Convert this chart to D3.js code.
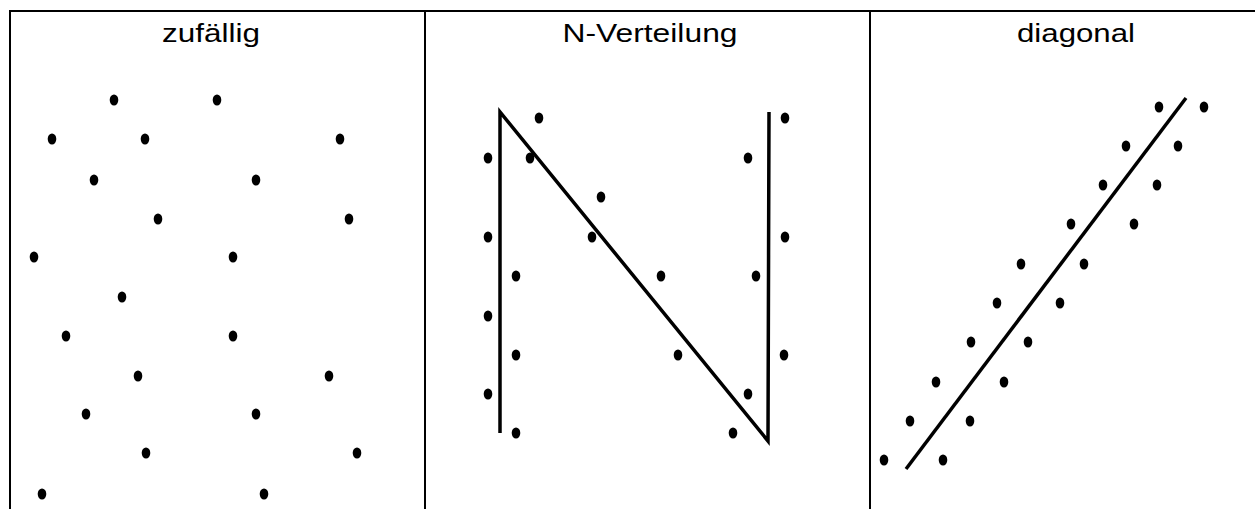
<!DOCTYPE html>
<html>
<head>
<meta charset="utf-8">
<script src="https://cdn.jsdelivr.net/npm/d3@7"></script>
<style>
  body { margin: 0; background: #fff; }
  text { font-family: "Liberation Sans", Arial, sans-serif; }
</style>
</head>
<body>
<div id="chart"></div>
<script>
// panel titles
var titles = ["zufällig", "N-Verteilung", "diagonal"];

// dots, panel-local x (from left border), y from top
var randomDots = [
  [104,100],[207,100],[42,139],[135,139],[330,139],[84,180],[246,180],
  [148,219],[339,219],[24,257],[223,257],[112,297],[56,336],[223,336],
  [128,376],[319,376],[76,414],[246,414],[136,453],[347,453],[32,494],[254,494]
];

var nDots = [
  [114,118],[360,118],[63,158],[105,158],[323,158],[176,197],[63,237],
  [167,237],[360,237],[91,276],[236,276],[331,276],[63,316],[91,355],
  [253,355],[359,355],[63,394],[323,394],[91,433],[308,433]
];
// N shape: left bar up, diagonal down, right bar up
var nLine = [[75,433],[75,112],[343,441],[344,112]];

var diagDots = [
  [289,107],[334,107],[256,146],[308,146],[233,185],[287,185],[201,224],
  [264,224],[151,264],[214,264],[127,303],[190,303],[101,342],[158,342],
  [66,382],[134,382],[40,421],[100,421],[14,460],[73,460]
];
var diagLine = [[36,469],[316,98]];

var panels = [
  {title: titles[0], dots: randomDots, line: null},
  {title: titles[1], dots: nDots, line: nLine},
  {title: titles[2], dots: diagDots, line: diagLine}
];

function drawChart() {
  var width = 1255, height = 509;
  var borderTop = 11;
  var edges = [10, 425, 870, 1255];
  var titleCenter = [201, 225, 206];   // offset of title centre within panel
  var titleLen = [98, 175, 118];

  var svg = d3.select("#chart").append("svg")
      .attr("width", width)
      .attr("height", height);

  svg.append("rect")
      .attr("width", width)
      .attr("height", height)
      .attr("fill", "#fff");

  panels.forEach(function(p, i) {
    var x = d3.scaleLinear()
        .domain([0, edges[i + 1] - edges[i]])
        .range([edges[i], edges[i + 1]]);
    var y = d3.scaleLinear()
        .domain([0, height])
        .range([0, height]);

    var g = svg.append("g");

    g.append("text")
        .attr("x", x(titleCenter[i]))
        .attr("y", 42)
        .attr("text-anchor", "middle")
        .attr("font-size", 26)
        .attr("textLength", titleLen[i])
        .attr("lengthAdjust", "spacingAndGlyphs")
        .attr("fill", "#000")
        .text(p.title);

    if (p.line) {
      var line = d3.line()
          .x(d => x(d[0]))
          .y(d => y(d[1]));
      g.append("path")
          .datum(p.line)
          .attr("d", line)
          .attr("fill", "none")
          .attr("stroke", "#000")
          .attr("stroke-width", 3.5)
          .attr("stroke-linejoin", "miter")
          .attr("stroke-miterlimit", 10);
    }

    g.selectAll("ellipse")
      .data(p.dots)
      .join("ellipse")
        .attr("cx", d => x(d[0]))
        .attr("cy", d => y(d[1]))
        .attr("rx", 4.3)
        .attr("ry", 5.6)
        .attr("fill", "#000");
  });

  // table borders
  svg.append("line")
      .attr("x1", edges[0] - 1).attr("x2", width)
      .attr("y1", borderTop).attr("y2", borderTop)
      .attr("stroke", "#000").attr("stroke-width", 2);

  svg.selectAll(".vborder")
    .data(edges.slice(0, 3))
    .join("line")
      .attr("class", "vborder")
      .attr("x1", d => d).attr("x2", d => d)
      .attr("y1", borderTop - 1).attr("y2", height)
      .attr("stroke", "#000").attr("stroke-width", 2);
}

window.onload = drawChart;
</script>
</body>
</html>
